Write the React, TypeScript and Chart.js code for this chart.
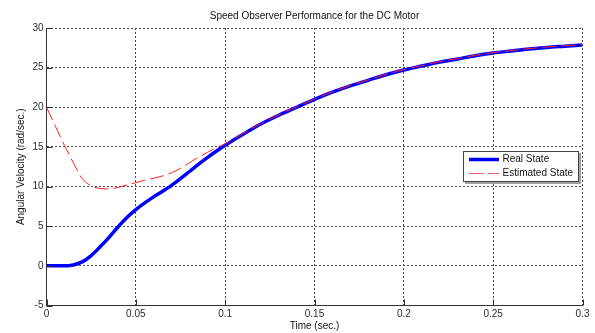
import React, { useEffect, useRef } from "react";
import { Chart, registerables } from "chart.js";

Chart.register(...registerables);

const chartTitle = "Speed Observer Performance for the DC Motor";
const xTitle = "Time (sec.)";
const yTitle = "Angular Velocity (rad/sec.)";
const seriesNames = ["Real State", "Estimated State"];

const times = [0, 0.005, 0.01, 0.0125, 0.015, 0.02, 0.025, 0.03, 0.035, 0.04, 0.045, 0.05, 0.055, 0.06, 0.065, 0.07, 0.075, 0.08, 0.085, 0.09, 0.095, 0.1, 0.11, 0.12, 0.13, 0.14, 0.15, 0.16, 0.17, 0.18, 0.19, 0.2, 0.21, 0.22, 0.23, 0.24, 0.25, 0.26, 0.27, 0.28, 0.29, 0.3];
const realState = [0, 0, 0, 0.02, 0.1, 0.5, 1.3, 2.4, 3.6, 4.9, 6.1, 7.1, 7.95, 8.7, 9.4, 10.15, 11.0, 11.9, 12.8, 13.65, 14.45, 15.2, 16.6, 17.9, 19.0, 20.0, 21.0, 21.9, 22.7, 23.4, 24.1, 24.7, 25.2, 25.7, 26.1, 26.5, 26.85, 27.1, 27.35, 27.55, 27.7, 27.85];
const estimatedState = [20, 17.6, 15.2, 14.1, 13.0, 11.0, 10.1, 9.75, 9.7, 9.9, 10.2, 10.5, 10.8, 11.05, 11.35, 11.75, 12.3, 13.0, 13.7, 14.3, 14.9, 15.4, 16.7, 17.95, 19.05, 20.05, 21.05, 21.95, 22.75, 23.45, 24.15, 24.75, 25.25, 25.75, 26.15, 26.55, 26.9, 27.15, 27.4, 27.6, 27.75, 27.9];

const FONT = "'Liberation Sans', Arial, sans-serif";

const overlayPlugin = {
  id: "overlay",
  afterDatasetsDraw(chart: any) {
    const { ctx, chartArea, scales } = chart;
    const xs = scales.x;
    const ys = scales.y;
    ctx.save();
    // inward ticks
    ctx.strokeStyle = "#333";
    ctx.lineWidth = 1;
    ctx.setLineDash([]);
    ctx.beginPath();
    xs.ticks.forEach((t: any) => {
      const px = Math.round(xs.getPixelForValue(t.value)) + 0.5;
      ctx.moveTo(px, chartArea.bottom);
      ctx.lineTo(px, chartArea.bottom - 6);
    });
    ys.ticks.forEach((t: any) => {
      const py = Math.round(ys.getPixelForValue(t.value)) + 0.5;
      ctx.moveTo(chartArea.left, py);
      ctx.lineTo(chartArea.left + 6, py);
    });
    ctx.stroke();

    // title
    ctx.fillStyle = "#111";
    ctx.font = `10px ${FONT}`;
    ctx.textAlign = "center";
    ctx.textBaseline = "middle";
    ctx.fillText(chartTitle, (chartArea.left + chartArea.right) / 2, 16);

    // legend
    const lx = 463, ly = 151, lw = 116, lh = 31;
    ctx.fillStyle = "#a0a0a0";
    ctx.fillRect(lx + 2, ly + 2, lw, lh);
    ctx.fillStyle = "#fff";
    ctx.fillRect(lx, ly, lw, lh);
    ctx.strokeStyle = "#444";
    ctx.lineWidth = 1;
    ctx.strokeRect(lx + 0.5, ly + 0.5, lw - 1, lh - 1);

    ctx.strokeStyle = "#0000ff";
    ctx.lineWidth = 3.5;
    ctx.beginPath();
    ctx.moveTo(469, 159.5);
    ctx.lineTo(499, 159.5);
    ctx.stroke();

    ctx.strokeStyle = "#ff6060";
    ctx.lineWidth = 1;
    ctx.setLineDash([15, 4]);
    ctx.beginPath();
    ctx.moveTo(469, 173.5);
    ctx.lineTo(499, 173.5);
    ctx.stroke();
    ctx.setLineDash([]);

    ctx.fillStyle = "#111";
    ctx.textAlign = "left";
    ctx.textBaseline = "middle";
    ctx.fillText(seriesNames[0], 502.5, 159.5);
    ctx.fillText(seriesNames[1], 502.5, 173.5);
    ctx.restore();
  },
};

export default function App() {
  const ref = useRef<HTMLCanvasElement>(null);

  useEffect(() => {
    if (!ref.current) return;
    const chart = new Chart(ref.current, {
      type: "line",
      data: {
        datasets: [
          {
            label: seriesNames[0],
            data: times.map((t, i) => ({ x: t, y: realState[i] })),
            borderColor: "#0000ff",
            borderWidth: 3.5,
            pointRadius: 0,
            cubicInterpolationMode: "monotone",
            fill: false,
            order: 1,
          },
          {
            label: seriesNames[1],
            data: times.map((t, i) => ({ x: t, y: estimatedState[i] })),
            borderColor: "#ff2020",
            borderWidth: 1,
            borderDash: [14, 5],
            pointRadius: 0,
            cubicInterpolationMode: "monotone",
            fill: false,
            order: 0,
          },
        ],
      },
      options: {
        responsive: false,
        animation: false,
        layout: { padding: { top: 28, right: 12.5, left: 0, bottom: 0 } },
        plugins: {
          legend: { display: false },
          title: { display: false },
          tooltip: { enabled: false },
        },
        scales: {
          x: {
            type: "linear",
            min: 0,
            max: 0.3,
            afterFit: (s: any) => {
              s.height = 27.5;
            },
            ticks: {
              stepSize: 0.05,
              padding: 3,
              maxRotation: 0,
              color: "#2b2b3b",
              font: { family: FONT, size: 10 },
              callback: (v: any) => String(Number(Number(v).toFixed(2))),
            },
            grid: {
              color: "#4a4a4a",
              lineWidth: 1,
              drawTicks: false,
            },
            border: { display: true, color: "#333", width: 1, dash: [2, 2] },
            title: {
              display: true,
              text: xTitle,
              color: "#111",
              font: { family: FONT, size: 10 },
              padding: { top: 0, bottom: 1 },
            },
          },
          y: {
            type: "linear",
            min: -5,
            max: 30,
            afterFit: (s: any) => {
              s.width = 46.5;
            },
            ticks: {
              stepSize: 5,
              padding: 3,
              color: "#2b2b3b",
              font: { family: FONT, size: 10 },
            },
            grid: {
              color: "#4a4a4a",
              lineWidth: 1,
              drawTicks: false,
            },
            border: { display: true, color: "#333", width: 1, dash: [2, 2] },
            title: {
              display: true,
              text: yTitle,
              color: "#111",
              font: { family: FONT, size: 10 },
              padding: { top: 15, bottom: 0 },
            },
          },
        },
      },
      plugins: [overlayPlugin],
    });
    return () => chart.destroy();
  }, []);

  return (
    <div style={{ position: "fixed", left: 0, top: 0, width: 595, height: 333, background: "#fff" }}>
      <canvas ref={ref} width={595} height={333} />
    </div>
  );
}
